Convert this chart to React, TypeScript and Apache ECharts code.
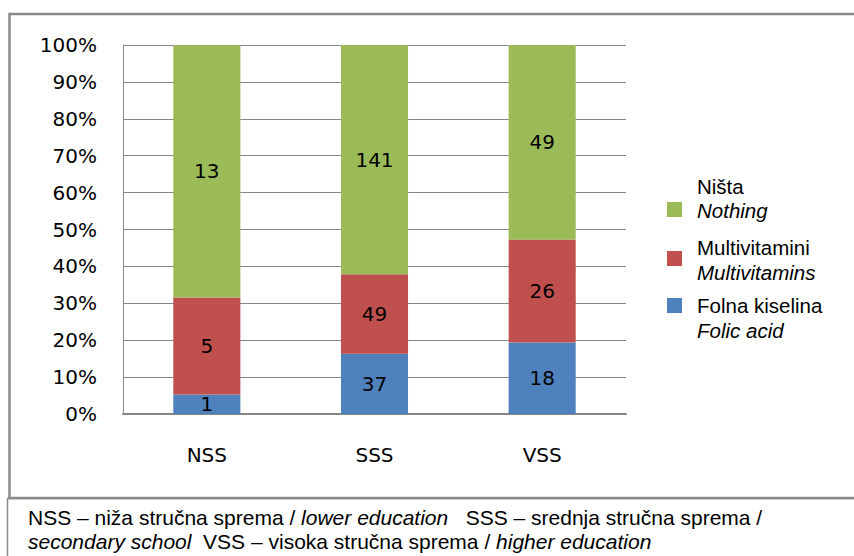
import React, { useEffect, useRef } from "react";
import * as echarts from "echarts";

const categories = ["NSS", "SSS", "VSS"];
const folicAcid = [1, 37, 18];
const multivitamins = [5, 49, 26];
const nothing = [13, 141, 49];
const seriesNames = ["Folna kiselina", "Multivitamini", "Ništa"];
const seriesNamesEn = ["Folic acid", "Multivitamins", "Nothing"];
const seriesColors = ["#4F81BD", "#C0504D", "#9BBB59"];
const yTicks = [0, 10, 20, 30, 40, 50, 60, 70, 80, 90, 100];

const captionLine1 = ["NSS – niža stručna sprema / ", "lower education", "   SSS – srednja stručna sprema /"];
const captionLine2 = ["secondary school", "  VSS – visoka stručna sprema / ", "higher education"];

export default function App() {
  const ref = useRef<HTMLDivElement>(null);
  useEffect(() => {
    if (!ref.current) return;
    const chart = echarts.init(ref.current, null, { renderer: "svg" });
    const all = [folicAcid, multivitamins, nothing];
    const totals = categories.map((_, i) => all.reduce((s, arr) => s + arr[i], 0));

    const series = all.map((arr, si) => ({
      name: seriesNames[si],
      type: "bar",
      stack: "total",
      barWidth: "40%",
      itemStyle: { color: seriesColors[si] },
      data: arr.map((v, i) => ({ value: (v / totals[i]) * 100, count: v })),
      label: {
        show: true,
        position: "inside",
        formatter: (p: any) => String(p.data.count),
        fontFamily: "DejaVu Sans",
        fontSize: 20,
        color: "#000",
      },
    }));

    const legendMarkerY = [298, 251, 202];
    const legendTextY = [[305.5, 330.5], [247.5, 272], [186.5, 210.5]];
    const legendGraphics: any[] = [];
    seriesNames.forEach((n, i) => {
      legendGraphics.push({
        type: "rect",
        shape: { x: 667, y: legendMarkerY[i], width: 15, height: 15 },
        style: { fill: seriesColors[i] },
      });
      legendGraphics.push({
        type: "text",
        x: 697,
        y: legendTextY[i][0],
        style: { text: n, font: "20.5px 'Liberation Sans', Arial, sans-serif", fill: "#000", verticalAlign: "middle" },
      });
      legendGraphics.push({
        type: "text",
        x: 697,
        y: legendTextY[i][1],
        style: { text: seriesNamesEn[i], font: "italic 20.5px 'Liberation Sans', Arial, sans-serif", fill: "#000", verticalAlign: "middle" },
      });
    });

    const option: any = {
      animation: false,
      backgroundColor: "#fff",
      grid: { left: 123, right: 228, top: 45, bottom: 142, containLabel: false },
      xAxis: {
        type: "category",
        data: categories,
        axisTick: { show: false },
        axisLine: { lineStyle: { color: "#868686", width: 2 } },
        axisLabel: { fontFamily: "DejaVu Sans", fontSize: 20, color: "#000", margin: 31 },
      },
      yAxis: {
        type: "value",
        min: yTicks[0],
        max: yTicks[yTicks.length - 1],
        interval: 10,
        axisLine: { show: true, lineStyle: { color: "#868686", width: 1 } },
        axisTick: { show: false },
        splitLine: { lineStyle: { color: "#868686", width: 1 } },
        axisLabel: { formatter: "{value}%", fontFamily: "DejaVu Sans", fontSize: 20, color: "#000", margin: 26 },
      },
      series,
      graphic: [
        {
          type: "rect",
          shape: { x: 9.5, y: 14, width: 900, height: 484 },
          style: { fill: "none", stroke: "#8a8a8a", lineWidth: 2.5 },
          silent: true,
        },
        {
          type: "rect",
          shape: { x: 7.5, y: 498.5, width: 900, height: 100 },
          style: { fill: "none", stroke: "#8a8a8a", lineWidth: 1.5 },
          silent: true,
        },
        ...legendGraphics,
        {
          type: "text",
          x: 28,
          y: 517,
          style: {
            text: captionLine1[0] + "{i|" + captionLine1[1] + "}" + captionLine1[2],
            font: "21px 'Liberation Sans', Arial, sans-serif",
            fill: "#000",
            verticalAlign: "middle",
            rich: { i: { fontStyle: "italic", fontFamily: "Liberation Sans", fontSize: 21, fill: "#000" } },
          },
        },
        {
          type: "text",
          x: 28,
          y: 541,
          style: {
            text: "{i|" + captionLine2[0] + "}" + captionLine2[1] + "{i|" + captionLine2[2] + "}",
            font: "21px 'Liberation Sans', Arial, sans-serif",
            fill: "#000",
            verticalAlign: "middle",
            rich: { i: { fontStyle: "italic", fontFamily: "Liberation Sans", fontSize: 21, fill: "#000" } },
          },
        },
      ],
    };
    chart.setOption(option);
    return () => chart.dispose();
  }, []);
  return <div ref={ref} style={{ position: "absolute", left: 0, top: 0, width: 854, height: 556 }} />;
}
